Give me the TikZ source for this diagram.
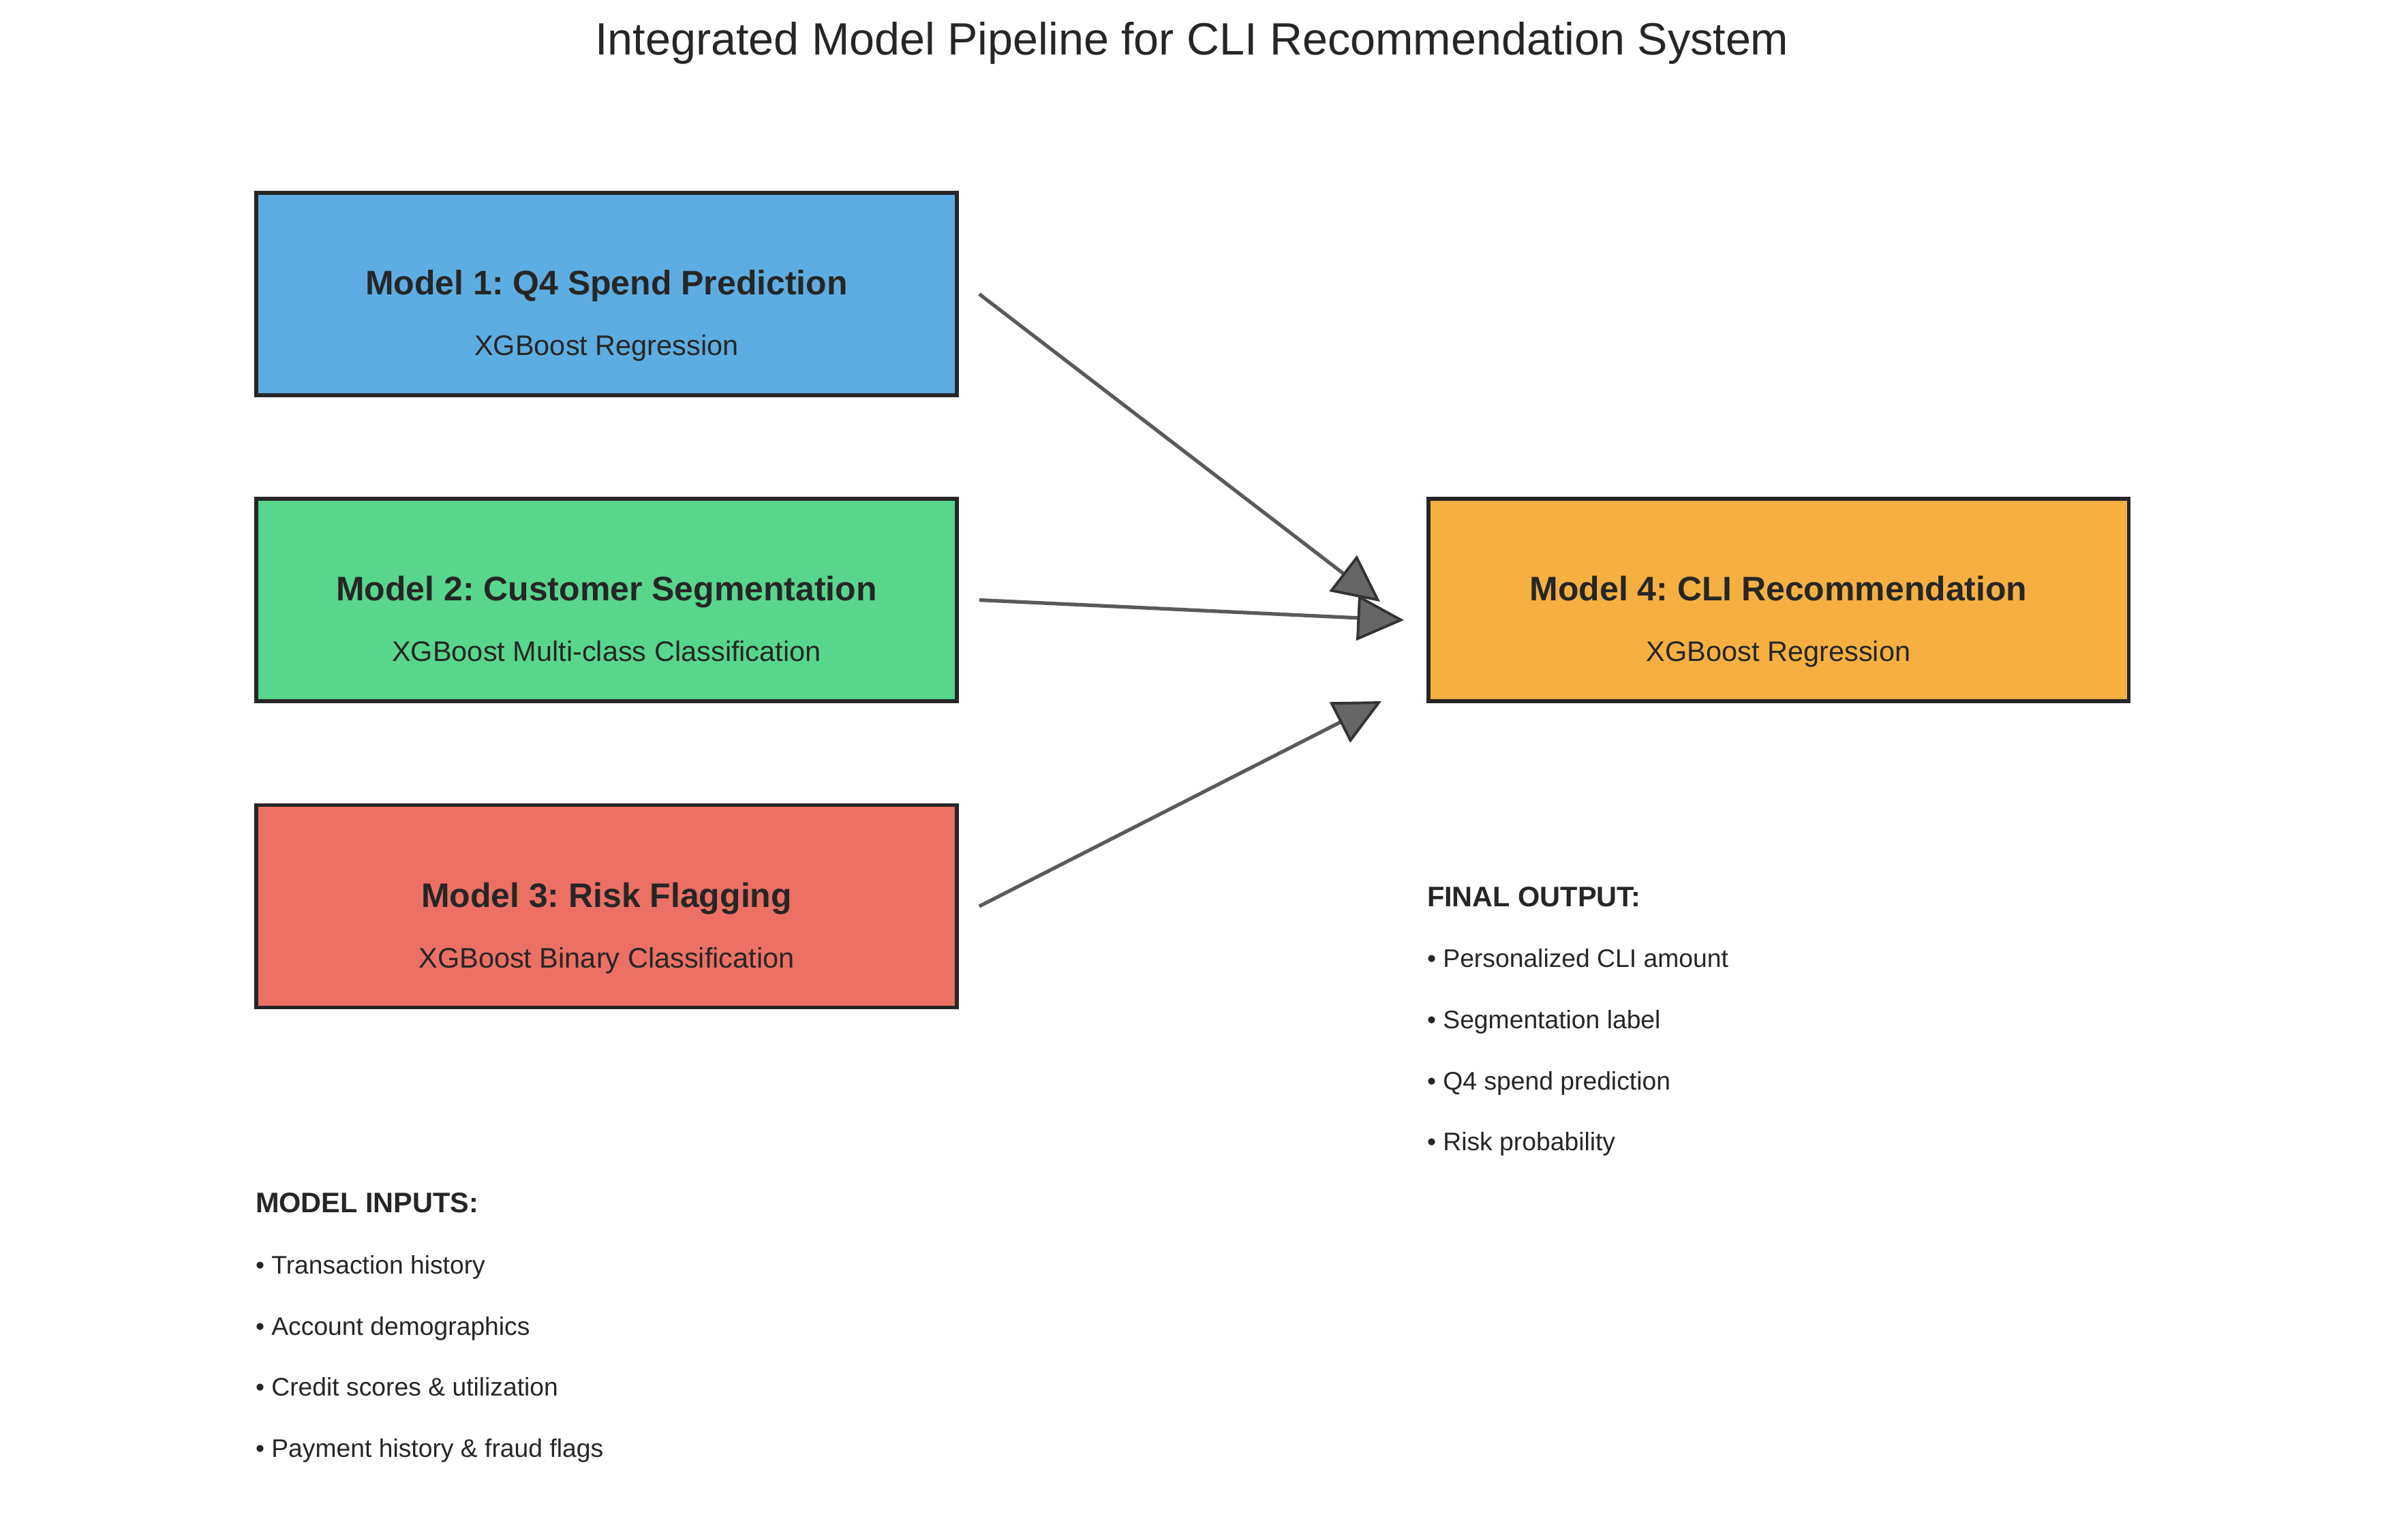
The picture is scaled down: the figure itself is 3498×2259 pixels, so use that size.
\documentclass[tikz,border=0pt]{standalone}
\usepackage{fontspec}
\setmainfont{Liberation Sans}
\usetikzlibrary{arrows.meta}
\frenchspacing
\definecolor{txt}{HTML}{262626}
\definecolor{bordc}{HTML}{262626}
\definecolor{cblue}{HTML}{5DADE2}
\definecolor{cgreen}{HTML}{58D68D}
\definecolor{cred}{HTML}{EC7063}
\definecolor{corange}{HTML}{F5B041}
\definecolor{shaft}{HTML}{5A5A5A}
\definecolor{headfill}{HTML}{666666}
\definecolor{headedge}{HTML}{333333}
\begin{document}
\begin{tikzpicture}[x=0.01cm,y=-0.01cm,
  every node/.style={text=txt, inner sep=0pt, outer sep=0pt},
  modelbox/.style={draw=bordc, line width=1.6pt, minimum width=10.27cm, minimum height=2.97cm},
  boxtitle/.style={anchor=base, font=\fontsize{14.2}{17}\selectfont\bfseries},
  boxsub/.style={anchor=base, font=\fontsize{11.8}{14}\selectfont},
  listhead/.style={anchor=base west, font=\fontsize{11.8}{14}\selectfont\bfseries},
  listitem/.style={anchor=base west, font=\fontsize{10.6}{13}\selectfont},
  arr/.style={draw=shaft, line width=1.5pt,
    -{Triangle[length=19.5pt,width=18.8pt,line width=1.1pt,color=headedge,fill=headfill]}}
]
\useasboundingbox (0,0) rectangle (3498,2259);
\fill[white] (0,0) rectangle (3498,2259);

% title
\node[anchor=base, font=\fontsize{18.9}{22}\selectfont] (title) at (1749,80)
  {Integrated Model Pipeline for CLI Recommendation System};

% boxes
\node[modelbox, fill=cblue]   (b1) at (890,431.5) {};
\node[modelbox, fill=cgreen]  (b2) at (890,880.5) {};
\node[modelbox, fill=cred]    (b3) at (890,1330) {};
\node[modelbox, fill=corange] (b4) at (2609.5,880.5) {};

\node[boxtitle] (b1t) at (890,432.5) {Model 1: Q4 Spend Prediction};
\node[boxsub]   (b1s) at (890,521.5) {XGBoost Regression};
\node[boxtitle] (b2t) at (890,881.5) {Model 2: Customer Segmentation};
\node[boxsub]   (b2s) at (890,970.5) {XGBoost Multi-class Classification};
\node[boxtitle] (b3t) at (890,1331) {Model 3: Risk Flagging};
\node[boxsub]   (b3s) at (890,1420) {XGBoost Binary Classification};
\node[boxtitle] (b4t) at (2609.5,881.5) {Model 4: CLI Recommendation};
\node[boxsub]   (b4s) at (2609.5,970.5) {XGBoost Regression};

% arrows
\coordinate (t1) at (2025,883);
\coordinate (t2) at (2060,910);
\coordinate (t3) at (2027,1029);
\draw[arr] ([xshift=0.33cm]b1.east) -- (t1);
\draw[arr] ([xshift=0.33cm]b2.east) -- (t2);
\draw[arr] ([xshift=0.33cm]b3.east) -- (t3);

% final output
\node[listhead] (fo)  at (2094,1330) {FINAL OUTPUT:};
\node[listitem] (fo1) at (2094,1419) {• Personalized CLI amount};
\node[listitem] (fo2) at (2094,1509) {• Segmentation label};
\node[listitem] (fo3) at (2094,1599) {• Q4 spend prediction};
\node[listitem] (fo4) at (2094,1688) {• Risk probability};

% model inputs
\node[listhead] (mi)  at (375,1779) {MODEL INPUTS:};
\node[listitem] (mi1) at (375,1869) {• Transaction history};
\node[listitem] (mi2) at (375,1959) {• Account demographics};
\node[listitem] (mi3) at (375,2048) {• Credit scores \& utilization};
\node[listitem] (mi4) at (375,2138) {• Payment history \& fraud flags};
\end{tikzpicture}
\end{document}
